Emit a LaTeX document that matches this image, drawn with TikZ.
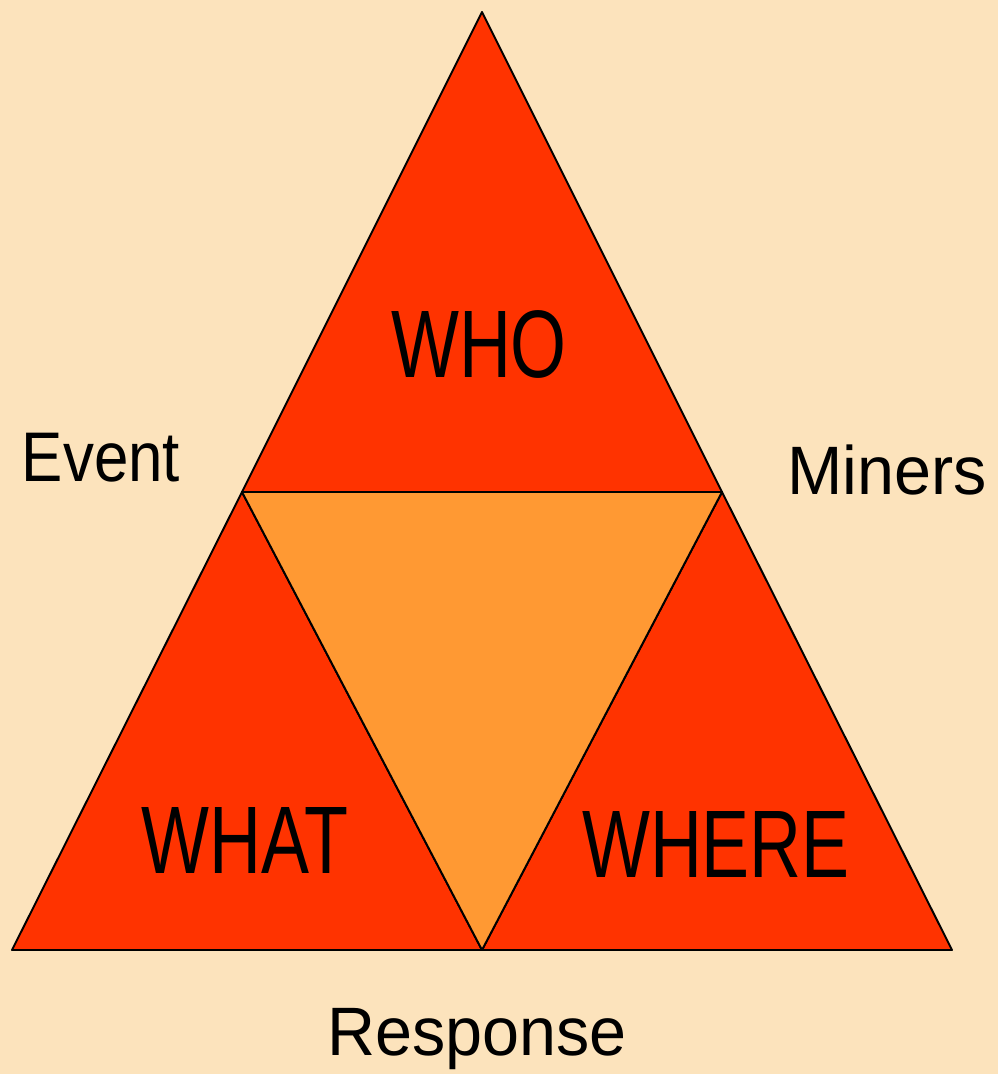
\documentclass[tikz,border=0pt]{standalone}
\usepackage{fontspec}
\setmainfont{Liberation Sans}
\newfontfamily\bigfont[FakeStretch=0.75]{Liberation Sans}
\newfontfamily\sidefont[FakeStretch=0.97]{Liberation Sans}
\newfontfamily\eventfont[FakeStretch=0.88]{Liberation Sans}
\definecolor{paper}{RGB}{252,227,188}
\definecolor{redpart}{RGB}{255,51,0}
\definecolor{orangepart}{RGB}{255,153,51}
\begin{document}
\begin{tikzpicture}[x=0.02cm,y=-0.02cm]

    \tikzset{
      part/.style={
        draw=black,
        line width=1.1pt,
        line join=round,
        fill=redpart,
      },
      bigword/.style={anchor=base, inner sep=0pt, font=\bigfont\fontsize{54.6}{60}\selectfont},
      sideword/.style={anchor=base, inner sep=0pt, font=\sidefont\fontsize{39}{44}\selectfont},
    }
    \fill[paper] (0,0) rectangle (998,1074);
    \useasboundingbox (0,0) rectangle (998,1074);

	\coordinate (apex) at (482,12);
	\coordinate (lmid) at (242,492);
	\coordinate (rmid) at (722,492);
	\coordinate (bmid) at (482,950);
	\coordinate (lfoot) at (12,950);
	\coordinate (rfoot) at (952,950);

	\draw[part] (apex)--(lmid)--(rmid)--cycle;
	\draw[part] (lmid)--(lfoot)--(bmid)--cycle;
	\draw[part] (rmid)--(bmid)--(rfoot)--cycle;
	\draw[part, fill=orangepart] (lmid)--(rmid)--(bmid)--cycle;

	\node[bigword] (who) at (479,377) {WHO};
	\node[bigword] (what) at (245,873) {WHAT};
	\node[bigword] (where) at (716,877) {WHERE};

	\node[sideword, font=\eventfont\fontsize{40}{44}\selectfont] (event) at (101,481) {Event};
	\node[sideword] (miners) at (887,494) {Miners};
	\node[sideword] (response) at (477,1055) {Response};

\end{tikzpicture}
\end{document}
